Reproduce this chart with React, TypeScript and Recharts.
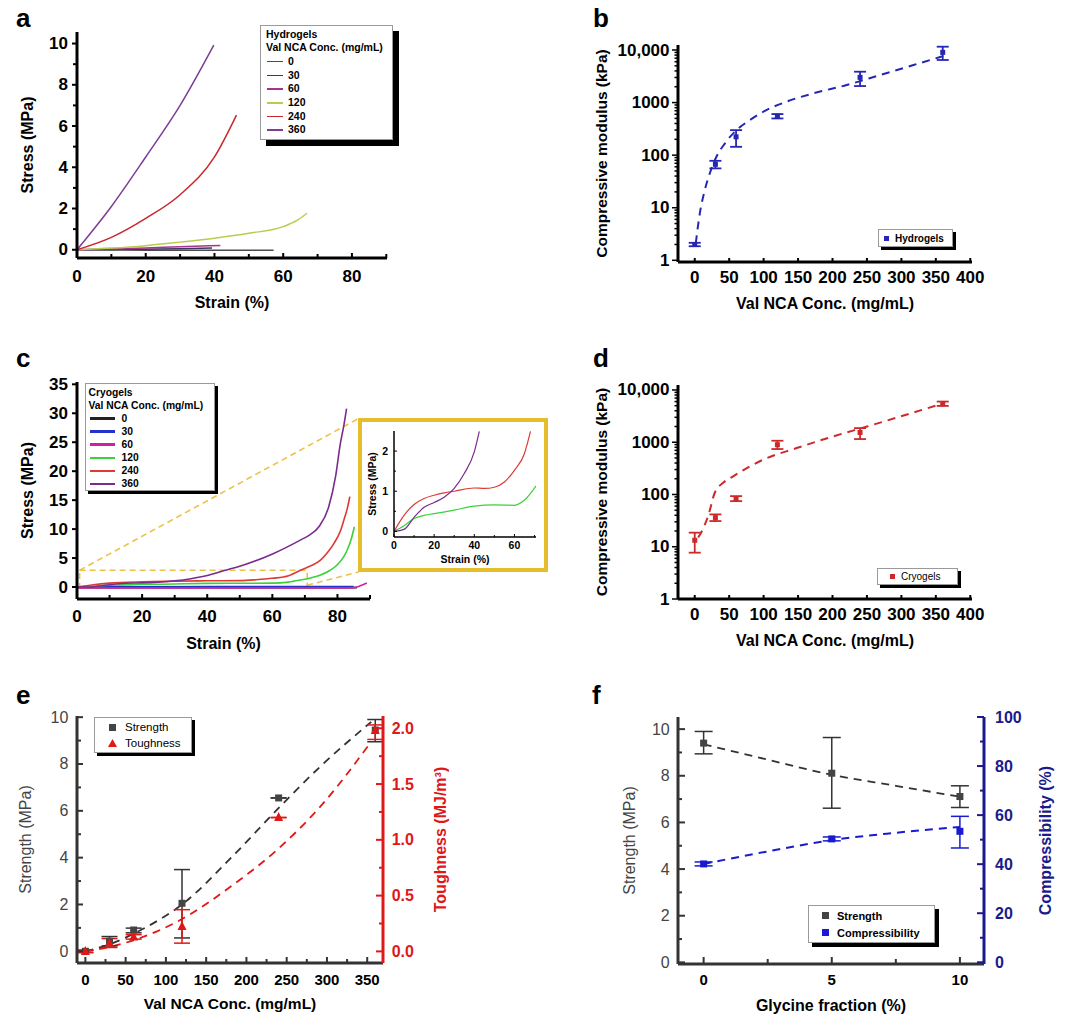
import React from "react";
import {
  ComposedChart,
  Line,
  Scatter,
  XAxis,
  YAxis,
  ErrorBar,
  ReferenceLine,
  ReferenceArea,
} from "recharts";

const FONT = '"Liberation Sans", Arial, Helvetica, sans-serif';

// ---------- panel a: hydrogels stress-strain ----------
const concLabels = ["0", "30", "60", "120", "240", "360"];
const hydroColors = ["#4d4d4d", "#3a3760", "#a8338c", "#bccb4e", "#c8282a", "#7d3c95"];
const hStrain0 = [0, 10, 20, 30, 40, 50, 57.2];
const hStress0 = [0, -0.01, -0.02, -0.02, -0.03, -0.03, -0.03];
const hStrain30 = [0, 10, 20, 30, 39.3];
const hStress30 = [0, 0.01, 0.03, 0.05, 0.08];
const hStrain60 = [0, 10, 20, 30, 41.7];
const hStress60 = [0, 0.04, 0.09, 0.15, 0.21];
const hStrain120 = [0, 10, 20, 30, 40, 50, 60, 64, 66.9];
const hStress120 = [0, 0.08, 0.2, 0.37, 0.56, 0.8, 1.12, 1.42, 1.77];
const hStrain240 = [0, 10, 20, 30, 40, 46.4];
const hStress240 = [0, 0.6, 1.52, 2.67, 4.5, 6.53];
const hStrain360 = [0, 10, 20, 30, 39.8];
const hStress360 = [0, 2.1, 4.5, 7.0, 9.92];

// ---------- panel c: cryogels stress-strain ----------
const cryoColors = ["#222222", "#2233cc", "#d21f9c", "#3ad23a", "#dd3a34", "#7a2c8e"];
const cStrain0 = [0, 20, 40, 60, 80, 86];
const cStress0 = [-0.1, -0.1, -0.1, -0.1, -0.1, -0.1];
const cStrain30 = [0, 20, 40, 60, 80, 85];
const cStress30 = [0, 0.05, 0.08, 0.1, 0.1, 0.1];
const cStrain60 = [0, 20, 40, 60, 80, 85, 87, 89];
const cStress60 = [-0.15, -0.15, -0.15, -0.15, -0.15, -0.1, 0.2, 0.7];
const cStrain120 = [0, 10, 20, 30, 40, 50, 60, 65, 68.6, 72, 74.8, 77.5, 79.9, 82, 83, 84.2, 85.2];
const cStress120 = [0, 0.3, 0.43, 0.52, 0.62, 0.65, 0.67, 0.85, 1.2, 1.6, 2.07, 2.8, 3.8, 5.3, 6.4, 8.2, 10.4];
const cStrain240 = [0, 5, 10, 20, 30, 40, 50, 55, 60, 65, 68.6, 72, 74.8, 77, 78.9, 81, 82, 83, 83.8];
const cStress240 = [0, 0.4, 0.67, 0.9, 1.0, 1.07, 1.1, 1.25, 1.5, 1.95, 2.9, 3.7, 4.65, 6.0, 7.5, 9.8, 11.6, 13.5, 15.6];
const cStrain360 = [0, 5, 10, 15, 20, 25, 30, 35, 40, 45, 51.2, 60.4, 68.6, 71.5, 74.3, 77.3, 79.4, 80.9, 82, 82.8];
const cStress360 = [0, 0.05, 0.4, 0.65, 0.72, 0.85, 1.07, 1.44, 1.98, 2.8, 3.8, 5.8, 8.1, 9.0, 10.4, 13.8, 19, 24.8, 28, 30.8];

// inset (low strain zoom)
const iStrain120 = [0, 5, 10, 15, 20, 30, 40, 50, 60, 65, 70.7];
const iStress120 = [0, 0.14, 0.32, 0.4, 0.44, 0.53, 0.63, 0.66, 0.65, 0.78, 1.13];
const iStrain240 = [0, 5, 10, 15, 20, 25, 30, 40, 45, 50, 55, 60, 65, 68];
const iStress240 = [0, 0.4, 0.67, 0.82, 0.9, 0.96, 1.0, 1.08, 1.07, 1.1, 1.23, 1.52, 1.94, 2.49];
const iStrain360 = [0, 5, 10, 15, 20, 25, 30, 35, 40, 42.5];
const iStress360 = [0, 0.05, 0.35, 0.6, 0.72, 0.85, 1.07, 1.44, 1.98, 2.49];

// ---------- panels b, d: compressive modulus ----------
const conc = [0, 30, 60, 120, 240, 360];
const hydroModulus = [2, 67, 223, 553, 3020, 9030];
const hydroModLo = [1.85, 56, 144, 499, 2062, 6460];
const hydroModHi = [2.15, 78, 299, 604, 3865, 11560];
const hydroFitX = [1.5, 7.3, 14.5, 21.8, 31.5, 43.6, 60.6, 80, 104, 133, 172, 220.6, 269, 317.6, 361];
const hydroFitY = [2.1, 7.7, 21.5, 44.8, 93, 166, 299, 464, 720, 1038, 1496, 2154, 3340, 5180, 7690];

const cryoModulus = [13.3, 36, 82.6, 896, 1538, 5410];
const cryoModLo = [7.7, 31, 74.6, 741, 1150, 4955];
const cryoModHi = [18.6, 41.6, 93, 1068, 1863, 5995];
const cryoFitX = [5, 12, 19.4, 29.1, 41.2, 55.8, 99.4, 148, 201, 250, 298, 361];
const cryoFitY = [15, 22, 38.6, 108, 167, 223, 464, 774, 1292, 1995, 3090, 5570];

// ---------- panel e: strength / toughness ----------
const strength = [0.0, 0.43, 0.91, 2.05, 6.55, 9.45];
const strengthErrLo = [0.05, 0.2, 0.12, 1.48, 0, 0.5];
const strengthErrHi = [0.05, 0.2, 0.08, 1.44, 0, 0.45];
const toughness = [0.0, 0.075, 0.13, 0.224, 1.2, 1.98];
const toughErrLo = [0.01, 0.04, 0.02, 0.15, 0, 0.08];
const toughErrHi = [0.01, 0.04, 0.02, 0.15, 0, 0.05];
const strengthFitX = [0, 30, 70, 120, 184, 238, 292, 355];
const strengthFitY = [0, 0.3, 0.93, 2.0, 4.1, 6.05, 7.9, 9.8];
const toughFitX = [0, 30, 68, 120, 184, 238, 292, 355];
const toughFitY = [0, 0.04, 0.12, 0.29, 0.6, 0.91, 1.3, 1.88];

// ---------- panel f: glycine fraction ----------
const glycine = [0, 5, 10];
const glyStrength = [9.4, 8.11, 7.11];
const glyStrengthLo = [0.46, 1.5, 0.47];
const glyStrengthHi = [0.5, 1.53, 0.46];
const glyCompress = [40.1, 50.3, 53.4];
const glyCompressLo = [0.8, 0.8, 6.8];
const glyCompressHi = [0.8, 0.8, 6.1];
const glyFitX = [0, 2.5, 5, 7.5, 10];
const glyStrengthFit = [9.35, 8.69, 8.04, 7.57, 7.1];
const glyCompressFit = [40.1, 45.2, 49.8, 52.8, 55.2];

const pts = (xs: number[], ys: number[]) => xs.map((x, i) => ({ x, y: ys[i] }));
const errPts = (xs: number[], ys: number[], lo: number[], hi: number[]) =>
  xs.map((x, i) => ({ x, y: ys[i], err: [lo[i], hi[i]] }));
const errRange = (xs: number[], ys: number[], lo: number[], hi: number[]) =>
  xs.map((x, i) => ({ x, y: ys[i], err: [ys[i] - lo[i], hi[i] - ys[i]] }));
const range = (a: number, b: number, s: number) => {
  const out: number[] = [];
  for (let v = a; v <= b + 1e-9; v += s) out.push(Math.round(v * 1000) / 1000);
  return out;
};

const logTicks = [1, 2, 3, 4, 5, 6, 7, 8, 9, 10, 20, 30, 40, 50, 60, 70, 80, 90, 100, 200, 300, 400, 500, 600, 700, 800, 900, 1000, 2000, 3000, 4000, 5000, 6000, 7000, 8000, 9000, 10000];
const logMajors = [1, 10, 100, 1000, 10000];
const logFmt = (v: number) => (v === 10000 ? "10,000" : String(v));

type TickOpt = {
  side: "left" | "right" | "bottom";
  majors: number[];
  fmt?: (v: number) => string;
  inside?: boolean;
  len?: number;
  minor?: number;
  gap: number;
  size: number;
  bold?: boolean;
  color?: string;
  line?: string;
  lw?: number;
};

function tickRenderer(o: TickOpt) {
  return (p: any) => {
    const v = p.payload.value as number;
    const isMajor = o.majors.some((m) => Math.abs(m - v) < 1e-6);
    const len = isMajor ? o.len ?? 6 : o.minor ?? 3.5;
    const d = o.inside ? -1 : 1;
    const lc = o.line ?? "#000";
    const lw = o.lw ?? 2;
    const style = {
      fontFamily: FONT,
      fontSize: o.size,
      fontWeight: o.bold ? 700 : 400,
      fill: o.color ?? "#000",
    };
    const label = isMajor ? (o.fmt ? o.fmt(v) : String(v)) : "";
    if (o.side === "bottom") {
      return (
        <g>
          <line x1={p.x} y1={p.y} x2={p.x} y2={p.y + d * len} stroke={lc} strokeWidth={lw} />
          {label && (
            <text x={p.x} y={p.y + o.gap} textAnchor="middle" dominantBaseline="central" style={style}>
              {label}
            </text>
          )}
        </g>
      );
    }
    const s = o.side === "left" ? -1 : 1;
    return (
      <g>
        <line x1={p.x} y1={p.y} x2={p.x + s * d * len} y2={p.y} stroke={lc} strokeWidth={lw} />
        {label && (
          <text
            x={p.x + s * o.gap}
            y={p.y}
            textAnchor={s < 0 ? "end" : "start"}
            dominantBaseline="central"
            style={style}
          >
            {label}
          </text>
        )}
      </g>
    );
  };
}

const titleStyle = (size: number, bold = true, color = "#000") => ({
  fontFamily: FONT,
  fontSize: size,
  fontWeight: bold ? 700 : 400,
  fill: color,
});

const xTitle = (text: string, dist: number, style: any) => (p: any) => {
  const vb = p.viewBox;
  return (
    <text x={vb.x + vb.width / 2} y={vb.y + dist} textAnchor="middle" dominantBaseline="central" style={style}>
      {text}
    </text>
  );
};

const yTitle = (text: string, dist: number, side: "left" | "right", style: any) => (p: any) => {
  const vb = p.viewBox;
  const cx = side === "left" ? vb.x + vb.width - dist : vb.x + dist;
  const cy = vb.y + vb.height / 2;
  return (
    <text
      x={cx}
      y={cy}
      transform={`rotate(-90 ${cx} ${cy})`}
      textAnchor="middle"
      dominantBaseline="central"
      style={style}
    >
      {text}
    </text>
  );
};

const square = (color: string, s: number) => (p: any) =>
  <rect x={p.cx - s / 2} y={p.cy - s / 2} width={s} height={s} fill={color} />;
const triangle = (color: string, s: number) => (p: any) =>
  (
    <polygon
      points={`${p.cx},${p.cy - s * 0.6} ${p.cx - s / 2},${p.cy + s * 0.4} ${p.cx + s / 2},${p.cy + s * 0.4}`}
      fill={color}
    />
  );

const noTick = { tickSize: 0, tickMargin: 0, tickLine: false, interval: 0 as const, allowDataOverflow: true };

function PanelLetter({ text, left, top }: { text: string; left: number; top: number }) {
  return (
    <div style={{ position: "absolute", left, top, fontFamily: FONT, fontWeight: 700, fontSize: 26, lineHeight: "26px" }}>
      {text}
    </div>
  );
}

function Box({ left, top, width, height, shadow, children }: any) {
  return (
    <div
      style={{
        position: "absolute",
        left,
        top,
        width,
        height,
        boxSizing: "border-box",
        background: "#fff",
        border: "1px solid #9a9a9a",
        boxShadow: `${shadow}px ${shadow}px 0 #000`,
        fontFamily: FONT,
        whiteSpace: "nowrap",
      }}
    >
      {children}
    </div>
  );
}

function CurveLegend({ left, top, width, height, shadow, title, colors, lh, pad, sampleW, sampleH, gap, size }: any) {
  const row = { height: lh, lineHeight: `${lh}px`, fontSize: size, fontWeight: 700 };
  return (
    <Box left={left} top={top} width={width} height={height} shadow={shadow}>
      <div style={{ paddingTop: 1.5, paddingLeft: pad }}>
        <div style={row}>{title}</div>
        <div style={row}>Val NCA Conc. (mg/mL)</div>
        {concLabels.map((l, i) => (
          <div key={l} style={{ ...row, display: "flex", alignItems: "center" }}>
            <span
              style={{ display: "inline-block", width: sampleW, height: sampleH, background: colors[i], marginLeft: 1, marginRight: gap }}
            />
            {l}
          </div>
        ))}
      </div>
    </Box>
  );
}

function PanelA() {
  const series = [
    pts(hStrain0, hStress0),
    pts(hStrain30, hStress30),
    pts(hStrain60, hStress60),
    pts(hStrain120, hStress120),
    pts(hStrain240, hStress240),
    pts(hStrain360, hStress360),
  ];
  return (
    <div style={{ position: "absolute", left: 0, top: 0 }}>
      <ComposedChart width={420} height={320} margin={{ top: 32, right: 33, bottom: 12, left: 27 }}>
        <XAxis
          type="number"
          dataKey="x"
          domain={[0, 90.2]}
          ticks={range(0, 90, 10)}
          height={50}
          {...noTick}
          axisLine={{ stroke: "#000", strokeWidth: 3 }}
          tick={tickRenderer({ side: "bottom", majors: [0, 20, 40, 60, 80], inside: true, len: 5, minor: 4, gap: 18.5, size: 17, bold: true })}
          label={xTitle("Strain (%)", 44, titleStyle(16))}
        />
        <YAxis
          type="number"
          domain={[-0.4, 10.56]}
          ticks={range(0, 10, 1)}
          width={50}
          {...noTick}
          axisLine={{ stroke: "#000", strokeWidth: 3 }}
          tick={tickRenderer({ side: "left", majors: [0, 2, 4, 6, 8, 10], len: 5, minor: 4, gap: 9, size: 17, bold: true })}
          label={yTitle("Stress (MPa)", 49.5, "left", titleStyle(16))}
        />
        {series.map((d, i) => (
          <Line
            key={i}
            data={d}
            dataKey="y"
            type="monotone"
            stroke={hydroColors[i]}
            strokeWidth={1.5}
            dot={false}
            isAnimationActive={false}
          />
        ))}
      </ComposedChart>
    </div>
  );
}

function ModulusPanel({ top, pointsData, fitData, color, yDomain, bottom }: any) {
  return (
    <div style={{ position: "absolute", left: 580, top }}>
      <ComposedChart width={420} height={320} margin={{ top: 45, right: 28, bottom, left: 38 }}>
        <XAxis
          type="number"
          dataKey="x"
          domain={[-24.3, 402.5]}
          ticks={range(0, 400, 50)}
          height={50}
          {...noTick}
          axisLine={{ stroke: "#000", strokeWidth: 3 }}
          tick={tickRenderer({ side: "bottom", majors: range(0, 400, 50), inside: true, len: 4, gap: 15, size: 17, bold: true })}
          label={xTitle("Val NCA Conc. (mg/mL)", 41, titleStyle(16))}
        />
        <YAxis
          type="number"
          scale="log"
          domain={yDomain}
          ticks={logTicks}
          width={60}
          {...noTick}
          axisLine={{ stroke: "#000", strokeWidth: 3 }}
          tick={tickRenderer({ side: "left", majors: logMajors, fmt: logFmt, len: 6, minor: 3.5, gap: 8.5, size: 17, bold: true, lw: 1.5 })}
          label={yTitle("Compressive modulus (kPa)", 77, "left", titleStyle(15.5))}
        />
        <Line
          data={fitData}
          dataKey="y"
          type="monotone"
          stroke={color}
          strokeWidth={2}
          strokeDasharray="8 6"
          dot={false}
          isAnimationActive={false}
        />
        <Scatter data={pointsData} dataKey="y" fill={color} shape={square(color, 5)} isAnimationActive={false}>
          <ErrorBar dataKey="err" direction="y" width={6} stroke={color} strokeWidth={1.8} />
        </Scatter>
      </ComposedChart>
    </div>
  );
}

function PanelC() {
  const series = [
    pts(cStrain0, cStress0),
    pts(cStrain30, cStress30),
    pts(cStrain60, cStress60),
    pts(cStrain120, cStress120),
    pts(cStrain240, cStress240),
    pts(cStrain360, cStress360),
  ];
  const dash = "#ecc24a";
  return (
    <div style={{ position: "absolute", left: 0, top: 340 }}>
      <ComposedChart width={400} height={320} margin={{ top: 42, right: 30, bottom: 11, left: 27 }}>
        <XAxis
          type="number"
          dataKey="x"
          domain={[0, 90]}
          ticks={range(0, 90, 10)}
          height={50}
          {...noTick}
          axisLine={{ stroke: "#000", strokeWidth: 3 }}
          tick={tickRenderer({ side: "bottom", majors: [0, 20, 40, 60, 80], inside: true, len: 5, minor: 4, gap: 17.7, size: 17, bold: true })}
          label={xTitle("Strain (%)", 44, titleStyle(16))}
        />
        <YAxis
          type="number"
          domain={[-2.07, 35.4]}
          ticks={range(0, 35, 5)}
          width={50}
          {...noTick}
          axisLine={{ stroke: "#000", strokeWidth: 3 }}
          tick={tickRenderer({ side: "left", majors: range(0, 35, 5), len: 5, gap: 9, size: 17, bold: true })}
          label={yTitle("Stress (MPa)", 50, "left", titleStyle(16))}
        />
        <ReferenceArea
          x1={0.8}
          x2={70.7}
          y1={0}
          y2={2.9}
          fill="none"
          stroke={dash}
          strokeWidth={1.6}
          strokeDasharray="6 4"
          ifOverflow="visible"
        />
        <ReferenceLine
          segment={[{ x: 0.8, y: 2.9 }, { x: 86.5, y: 29.1 }]}
          stroke={dash}
          strokeWidth={1.6}
          strokeDasharray="6 4"
          ifOverflow="visible"
        />
        <ReferenceLine
          segment={[{ x: 70.7, y: 0.3 }, { x: 86.5, y: 2.6 }]}
          stroke={dash}
          strokeWidth={1.6}
          strokeDasharray="6 4"
          ifOverflow="visible"
        />
        {series.map((d, i) => (
          <Line
            key={i}
            data={d}
            dataKey="y"
            type="monotone"
            stroke={cryoColors[i]}
            strokeWidth={1.6}
            dot={false}
            isAnimationActive={false}
          />
        ))}
      </ComposedChart>
    </div>
  );
}

function Inset() {
  const series = [
    { d: pts(iStrain120, iStress120), c: cryoColors[3] },
    { d: pts(iStrain240, iStress240), c: cryoColors[4] },
    { d: pts(iStrain360, iStress360), c: cryoColors[5] },
  ];
  return (
    <div
      style={{
        position: "absolute",
        left: 358,
        top: 418,
        width: 190,
        height: 154,
        boxSizing: "border-box",
        border: "4px solid #e6bd2c",
        background: "#fff",
      }}
    >
      <ComposedChart width={182} height={146} margin={{ top: 9, right: 8, bottom: 7, left: 10 }}>
        <XAxis
          type="number"
          dataKey="x"
          domain={[0, 70.75]}
          ticks={range(0, 70, 10)}
          height={24}
          {...noTick}
          axisLine={{ stroke: "#000", strokeWidth: 1.5 }}
          tick={tickRenderer({ side: "bottom", majors: [0, 20, 40, 60], inside: true, len: 3, minor: 2, gap: 8, size: 10.5, bold: true, lw: 1 })}
          label={xTitle("Strain (%)", 22, titleStyle(10.5))}
        />
        <YAxis
          type="number"
          domain={[-0.14, 2.5]}
          ticks={[0, 0.5, 1, 1.5, 2]}
          width={22}
          {...noTick}
          axisLine={{ stroke: "#000", strokeWidth: 1.5 }}
          tick={tickRenderer({ side: "left", majors: [0, 1, 2], inside: true, len: 3, minor: 2, gap: 6, size: 10.5, bold: true, lw: 1 })}
          label={yTitle("Stress (MPa)", 22, "left", titleStyle(10.5))}
        />
        {series.map((s, i) => (
          <Line
            key={i}
            data={s.d}
            dataKey="y"
            type="monotone"
            stroke={s.c}
            strokeWidth={1.2}
            dot={false}
            isAnimationActive={false}
          />
        ))}
      </ComposedChart>
    </div>
  );
}

function PanelE() {
  const red = "#e01818";
  const gray = "#333333";
  return (
    <div style={{ position: "absolute", left: 0, top: 680 }}>
      <ComposedChart width={480} height={340} margin={{ top: 36, right: 27, bottom: 7, left: 27 }}>
        <XAxis
          type="number"
          dataKey="x"
          domain={[-10.4, 369.6]}
          ticks={range(0, 350, 25)}
          height={50}
          {...noTick}
          axisLine={{ stroke: gray, strokeWidth: 3 }}
          tick={tickRenderer({ side: "bottom", majors: range(0, 350, 50), inside: true, len: 6, minor: 4, gap: 16.7, size: 15, bold: true, line: gray })}
          label={xTitle("Val NCA Conc. (mg/mL)", 40, titleStyle(15.5))}
        />
        <YAxis
          yAxisId="left"
          type="number"
          domain={[-0.5, 10.05]}
          ticks={range(0, 10, 1)}
          width={50}
          {...noTick}
          axisLine={{ stroke: gray, strokeWidth: 3 }}
          tick={tickRenderer({ side: "left", majors: range(0, 10, 2), inside: true, len: 6, minor: 4, gap: 8.7, size: 16, color: "#444", line: gray })}
          label={yTitle("Strength (MPa)", 52, "left", titleStyle(16, false, "#444"))}
        />
        <YAxis
          yAxisId="right"
          orientation="right"
          type="number"
          domain={[-0.104, 2.11]}
          ticks={range(0, 2, 0.25)}
          width={70}
          {...noTick}
          axisLine={{ stroke: red, strokeWidth: 3 }}
          tick={tickRenderer({ side: "right", majors: [0, 0.5, 1, 1.5, 2], fmt: (v) => v.toFixed(1), inside: true, len: 7, minor: 4, gap: 8.7, size: 16, bold: true, color: red, line: red })}
          label={yTitle("Toughness (MJ/m³)", 57, "right", titleStyle(16, true, red))}
        />
        <Line
          yAxisId="left"
          data={pts(strengthFitX, strengthFitY)}
          dataKey="y"
          type="monotone"
          stroke={gray}
          strokeWidth={1.8}
          strokeDasharray="8 6"
          dot={false}
          isAnimationActive={false}
        />
        <Line
          yAxisId="right"
          data={pts(toughFitX, toughFitY)}
          dataKey="y"
          type="monotone"
          stroke={red}
          strokeWidth={1.8}
          strokeDasharray="8 6"
          dot={false}
          isAnimationActive={false}
        />
        <Scatter
          yAxisId="left"
          data={errPts(conc, strength, strengthErrLo, strengthErrHi)}
          dataKey="y"
          fill={gray}
          shape={square("#444", 7)}
          isAnimationActive={false}
        >
          <ErrorBar dataKey="err" direction="y" width={8} stroke={gray} strokeWidth={1.5} />
        </Scatter>
        <Scatter
          yAxisId="right"
          data={errPts(conc, toughness, toughErrLo, toughErrHi)}
          dataKey="y"
          fill={red}
          shape={triangle(red, 9)}
          isAnimationActive={false}
        >
          <ErrorBar dataKey="err" direction="y" width={8} stroke={red} strokeWidth={1.5} />
        </Scatter>
      </ComposedChart>
    </div>
  );
}

function PanelF() {
  const blue = "#1a1ad0";
  const navy = "#1a1a8c";
  const gray = "#333333";
  return (
    <div style={{ position: "absolute", left: 580, top: 680 }}>
      <ComposedChart width={497} height={340} margin={{ top: 37, right: 33, bottom: 6, left: 38 }}>
        <XAxis
          type="number"
          dataKey="x"
          domain={[-1, 10.94]}
          ticks={[0, 2.5, 5, 7.5, 10]}
          height={50}
          {...noTick}
          axisLine={{ stroke: gray, strokeWidth: 3 }}
          tick={tickRenderer({ side: "bottom", majors: [0, 5, 10], inside: true, len: 7, minor: 5, gap: 15.7, size: 15, bold: true, line: gray })}
          label={xTitle("Glycine fraction (%)", 41, titleStyle(16))}
        />
        <YAxis
          yAxisId="left"
          type="number"
          domain={[-0.07, 10.52]}
          ticks={range(0, 10, 1)}
          width={60}
          {...noTick}
          axisLine={{ stroke: gray, strokeWidth: 3 }}
          tick={tickRenderer({ side: "left", majors: range(0, 10, 2), inside: true, len: 7, minor: 4, gap: 8.3, size: 16, color: "#444", line: gray })}
          label={yTitle("Strength (MPa)", 49, "left", titleStyle(16, false, "#444"))}
        />
        <YAxis
          yAxisId="right"
          orientation="right"
          type="number"
          domain={[-0.7, 100]}
          ticks={range(0, 100, 10)}
          width={60}
          {...noTick}
          axisLine={{ stroke: navy, strokeWidth: 3 }}
          tick={tickRenderer({ side: "right", majors: range(0, 100, 20), inside: true, len: 7, minor: 4, gap: 11, size: 16, bold: true, color: navy, line: navy })}
          label={yTitle("Compressibility (%)", 61, "right", titleStyle(16, true, navy))}
        />
        <Line
          yAxisId="left"
          data={pts(glyFitX, glyStrengthFit)}
          dataKey="y"
          type="monotone"
          stroke={gray}
          strokeWidth={1.8}
          strokeDasharray="8 6"
          dot={false}
          isAnimationActive={false}
        />
        <Line
          yAxisId="right"
          data={pts(glyFitX, glyCompressFit)}
          dataKey="y"
          type="monotone"
          stroke={blue}
          strokeWidth={2}
          strokeDasharray="8 6"
          dot={false}
          isAnimationActive={false}
        />
        <Scatter
          yAxisId="left"
          data={errPts(glycine, glyStrength, glyStrengthLo, glyStrengthHi)}
          dataKey="y"
          fill={gray}
          shape={square("#444", 7)}
          isAnimationActive={false}
        >
          <ErrorBar dataKey="err" direction="y" width={9} stroke={gray} strokeWidth={1.5} />
        </Scatter>
        <Scatter
          yAxisId="right"
          data={errPts(glycine, glyCompress, glyCompressLo, glyCompressHi)}
          dataKey="y"
          fill={blue}
          shape={square(blue, 7)}
          isAnimationActive={false}
        >
          <ErrorBar dataKey="err" direction="y" width={9} stroke={blue} strokeWidth={1.5} />
        </Scatter>
      </ComposedChart>
    </div>
  );
}

export default function App() {
  const hydroPts = errRange(conc, hydroModulus, hydroModLo, hydroModHi);
  const cryoPts = errRange(conc, cryoModulus, cryoModLo, cryoModHi);
  return (
    <div
      style={{
        position: "absolute",
        left: 0,
        top: 0,
        width: 1077,
        height: 1029,
        background: "#fff",
        overflow: "hidden",
        fontFamily: FONT,
      }}
    >
      <PanelA />
      <ModulusPanel
        top={0}
        pointsData={hydroPts}
        fitData={pts(hydroFitX, hydroFitY)}
        color="#2626b4"
        yDomain={[0.928, 12450]}
        bottom={8}
      />
      <PanelC />
      <Inset />
      <ModulusPanel
        top={340}
        pointsData={cryoPts}
        fitData={pts(cryoFitX, cryoFitY)}
        color="#cc2a2a"
        yDomain={[1, 12450]}
        bottom={11}
      />
      <PanelE />
      <PanelF />

      <CurveLegend
        left={260}
        top={25}
        width={133}
        height={115}
        shadow={6}
        title="Hydrogels"
        colors={hydroColors}
        lh={13.7}
        pad={5}
        sampleW={16}
        sampleH={1.5}
        gap={5}
        size={10.5}
      />
      <CurveLegend
        left={85}
        top={383}
        width={130}
        height={108}
        shadow={3}
        title="Cryogels"
        colors={cryoColors}
        lh={13.15}
        pad={2.5}
        sampleW={25}
        sampleH={2.5}
        gap={7}
        size={10.3}
      />

      <Box left={878} top={229} width={75} height={18} shadow={3}>
        <div style={{ display: "flex", alignItems: "center", height: 16, fontSize: 10, fontWeight: 700, paddingLeft: 5 }}>
          <span style={{ display: "inline-block", width: 5, height: 5, background: "#2626b4", marginRight: 6 }} />
          Hydrogels
        </div>
      </Box>
      <Box left={877} top={568} width={81} height={17} shadow={3}>
        <div style={{ display: "flex", alignItems: "center", height: 15, fontSize: 10, paddingLeft: 12 }}>
          <span style={{ display: "inline-block", width: 5, height: 5, background: "#cc2a2a", marginRight: 6 }} />
          Cryogels
        </div>
      </Box>
      <Box left={94} top={717} width={98} height={36} shadow={3}>
        <div style={{ paddingLeft: 14, paddingTop: 1, fontSize: 11.5 }}>
          <div style={{ display: "flex", alignItems: "center", height: 16 }}>
            <span style={{ display: "inline-block", width: 7, height: 7, background: "#444", marginRight: 9 }} />
            Strength
          </div>
          <div style={{ display: "flex", alignItems: "center", height: 16 }}>
            <svg width={9} height={8} style={{ marginRight: 8, marginLeft: -1 }}>
              <polygon points="4.5,0 0,8 9,8" fill="#e01818" />
            </svg>
            Toughness
          </div>
        </div>
      </Box>
      <Box left={808} top={905} width={127} height={38} shadow={4}>
        <div style={{ paddingLeft: 13, paddingTop: 1, fontSize: 11, fontWeight: 700 }}>
          <div style={{ display: "flex", alignItems: "center", height: 17 }}>
            <span style={{ display: "inline-block", width: 7, height: 7, background: "#444", marginRight: 8 }} />
            Strength
          </div>
          <div style={{ display: "flex", alignItems: "center", height: 17 }}>
            <span style={{ display: "inline-block", width: 7, height: 7, background: "#1a1ad0", marginRight: 8 }} />
            Compressibility
          </div>
        </div>
      </Box>

      <PanelLetter text="a" left={16} top={5} />
      <PanelLetter text="b" left={593} top={5} />
      <PanelLetter text="c" left={16} top={345} />
      <PanelLetter text="d" left={593} top={345} />
      <PanelLetter text="e" left={16} top={682} />
      <PanelLetter text="f" left={592} top={682} />
    </div>
  );
}
